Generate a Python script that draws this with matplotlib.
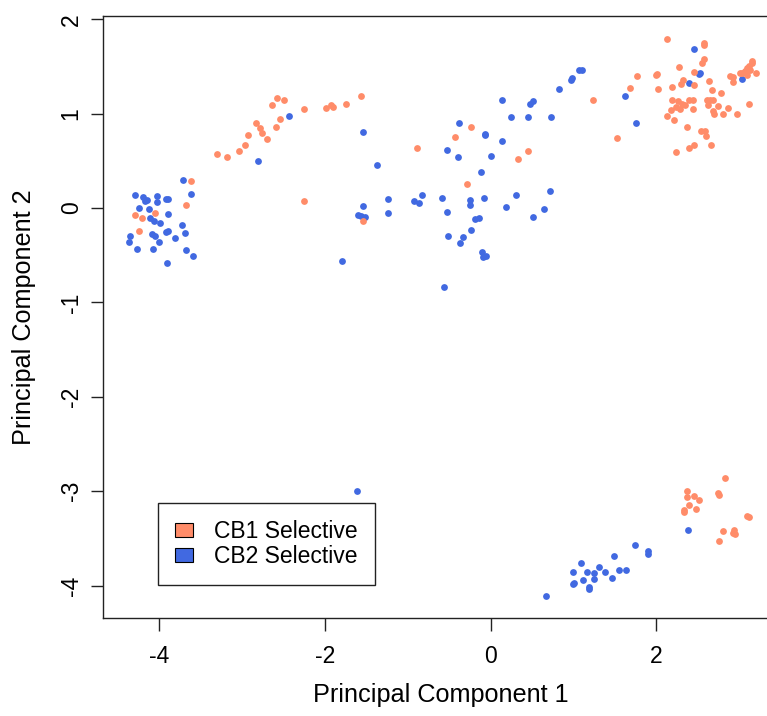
import matplotlib
matplotlib.use('Agg')
import matplotlib.pyplot as plt
from matplotlib.patches import Patch

plt.rcParams['font.family'] = ['Liberation Sans', 'DejaVu Sans']
plt.rcParams['axes.unicode_minus'] = False

# PCA scores
cb1_x = [-3.62, -3.68, -4.29, -4.21, -4.05, -4.24,
         -3.31, -3.18, -3.04, -2.97, -2.93, -2.83, -2.79, -2.76, -2.70, -2.59, -2.54,
         -2.64, -2.58, -2.49, -2.25, -1.99, -1.93, -1.90, -1.75, -1.57, -2.25,
         -1.54, -0.89, -0.24, -0.43, 0.45, 0.33, -0.29,
         1.23, 1.53, 1.68, 1.77, 2.00, 2.01, 2.02, 2.13, 2.19, 2.27, 2.32, 2.30,
         2.45, 2.45, 2.58, 2.575, 2.575, 2.555, 2.64, 2.67, 2.78, 2.185, 2.18, 2.125,
         2.21, 2.265, 2.24, 2.31, 2.35, 2.29, 2.40, 2.44, 2.44, 2.375, 2.61, 2.65,
         2.69, 2.62, 2.75, 2.87, 2.81, 2.70, 2.69, 2.97, 3.115, 2.535, 2.59, 2.60,
         2.39, 2.45, 2.24, 2.66, 2.89, 2.93, 2.93, 3.04, 3.07, 3.10, 3.12, 3.15,
         3.16, 3.20, 3.09, 3.01, 3.13,
         2.37, 2.37, 2.45, 2.51, 2.39, 2.34, 2.34, 2.48, 2.75, 2.755, 2.83, 3.10,
         3.12, 2.80, 2.94, 2.95, 2.93, 2.76]
cb1_y = [0.29, 0.03, -0.07, -0.10, -0.05, -0.24,
         0.57, 0.54, 0.61, 0.67, 0.77, 0.90, 0.85, 0.80, 0.73, 0.86, 0.94,
         1.09, 1.17, 1.14, 1.05, 1.06, 1.09, 1.07, 1.10, 1.19, 0.07,
         -0.14, 0.64, 0.86, 0.75, 0.61, 0.52, 0.26,
         1.15, 0.74, 1.27, 1.40, 1.41, 1.42, 1.26, 1.79, 1.28, 1.49, 1.36, 1.31,
         1.30, 1.44, 1.75, 1.73, 1.58, 1.54, 1.35, 1.25, 1.22, 1.14, 1.04, 0.98,
         0.93, 1.13, 1.07, 1.10, 1.09, 1.05, 1.15, 1.14, 1.05, 0.86, 1.15, 1.15,
         1.15, 1.09, 1.08, 1.06, 1.00, 1.00, 1.03, 1.00, 1.10, 0.82, 0.82, 0.76,
         0.64, 0.67, 0.59, 0.67, 1.40, 1.385, 1.34, 1.435, 1.455, 1.48, 1.51, 1.54,
         1.56, 1.43, 1.41, 1.43, 1.46,
         -3.00, -3.06, -3.05, -3.09, -3.14, -3.20, -3.22, -3.19, -3.02, -3.04, -2.86, -3.26,
         -3.27, -3.42, -3.41, -3.45, -3.44, -3.53]

cb2_x = [-3.71, -3.62, -4.30, -4.20, -4.15, -4.17, -4.03, -4.03, -3.90, -3.92,
         -4.25, -4.12, -3.90, -4.11, -4.07, -3.99, -3.73, -3.69, -3.90, -3.92,
         -4.36, -4.37, -4.09, -4.05, -4.00, -3.81, -4.27, -4.08, -3.68, -3.60, -3.91,
         -2.43, -2.81, -1.545, -1.376, -1.54, -1.60, -1.56, -1.52, -1.24, -1.24,
         -0.93, -0.87, -0.83, -1.80, -1.61,
         0.97, 0.985, 1.07, 1.10, 0.82, 0.14, 0.47, 0.51, 0.24, 0.45, 0.73,
         -0.38, -0.07, -0.07, 0.14, -0.53, -0.40, 0.01, -0.12, -0.59, -0.25, -0.25,
         -0.085, 0.31, 0.72, -0.53, 0.19, 0.64, 0.51, -0.19, -0.14, -0.24, -0.52,
         -0.34, -0.37, -0.105, -0.09, -0.06, -0.56,
         1.62, 1.75, 2.45, 2.39, 2.51, 2.53, 3.04,
         0.67, 1.00, 1.00, 1.01, 1.09, 1.12, 1.16, 1.19, 1.19, 1.25, 1.25, 1.31,
         1.38, 1.46, 1.49, 1.55, 1.64, 1.74, 1.90, 1.90, 2.38]
cb2_y = [0.30, 0.15, 0.14, 0.12, 0.09, 0.07, 0.13, 0.06, 0.10, 0.10,
         0.00, -0.01, -0.06, -0.11, -0.14, -0.16, -0.18, -0.26, -0.24, -0.25,
         -0.30, -0.36, -0.27, -0.30, -0.36, -0.32, -0.43, -0.43, -0.44, -0.51, -0.58,
         0.98, 0.50, 0.81, 0.46, 0.02, -0.07, -0.08, -0.09, 0.10, -0.05,
         0.075, 0.05, 0.135, -0.56, -3.00,
         1.36, 1.38, 1.46, 1.46, 1.26, 1.14, 1.10, 1.13, 0.97, 0.97, 0.97,
         0.905, 0.79, 0.77, 0.71, 0.615, 0.54, 0.55, 0.38, 0.11, 0.09, 0.03,
         0.11, 0.135, 0.18, -0.04, 0.015, -0.01, -0.09, -0.12, -0.10, -0.23, -0.30,
         -0.31, -0.37, -0.46, -0.52, -0.51, -0.84,
         1.19, 0.905, 1.685, 1.33, 1.42, 1.43, 1.37,
         -4.11, -3.85, -3.98, -3.97, -3.76, -3.94, -3.85, -4.01, -4.04, -3.87, -3.93, -3.80,
         -3.85, -3.92, -3.69, -3.83, -3.83, -3.57, -3.63, -3.66, -3.41]

labels = ['CB1 Selective', 'CB2 Selective']
colors = ['#FF8C69', '#4169E1']

fig = plt.figure(figsize=(7.67, 7.16), dpi=100)
# axes runs past the right edge of the figure, like the cropped original
ax = fig.add_axes([0.1349, 0.1373, 0.8794, 0.8401])

ax.scatter(cb2_x, cb2_y, s=24, c=colors[1], linewidths=0, zorder=3)
ax.scatter(cb1_x, cb1_y, s=24, c=colors[0], linewidths=0, zorder=3)

ax.set_xlim(-4.675, 3.469)
ax.set_ylim(-4.339, 2.033)
ax.set_xticks([-4, -2, 0, 2])
ax.set_yticks([-4, -3, -2, -1, 0, 1, 2])

for sp in ax.spines.values():
    sp.set_linewidth(1.0)
    sp.set_color('#222222')

ax.tick_params(length=9, width=1.0, color='#222222', labelsize=16.5)
ax.tick_params(axis='x', pad=11)
ax.tick_params(axis='y', pad=6, labelrotation=90)
for t in ax.get_yticklabels():
    t.set_va('center')

ax.set_xlabel('Principal Component 1', fontsize=18.2)
ax.set_ylabel('Principal Component 2', fontsize=18.2)
ax.xaxis.set_label_coords(0.5, -0.109)
ax.yaxis.set_label_coords(-0.1, 0.5)

handles = [Patch(facecolor=c, edgecolor='black', linewidth=0.8) for c in colors]
leg = ax.legend(handles, labels, loc='upper left', bbox_to_anchor=(0.0812, 0.1907),
                fontsize=16.5, fancybox=False, framealpha=1, edgecolor='#222222',
                borderaxespad=0, borderpad=0.75, handlelength=0.75, handleheight=0.55,
                handletextpad=0.95, labelspacing=0.08)
leg.get_frame().set_linewidth(1.0)

fig.savefig('out.png', dpi=100)
